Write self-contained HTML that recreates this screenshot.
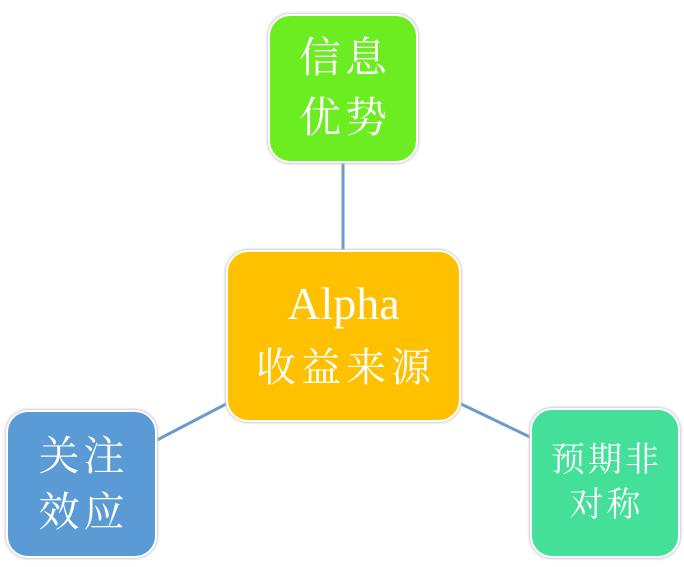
<!DOCTYPE html>
<html><head><meta charset="utf-8"><style>
body{margin:0;width:684px;height:567px;background:#fff;position:relative;overflow:hidden;font-family:"Liberation Serif","Noto Serif CJK SC",serif;}
.b{position:absolute;box-sizing:border-box;border:2px solid #fff;border-radius:22px;box-shadow:0 0 2px 1px #ccc;color:#fff;display:flex;flex-direction:column;align-items:center;justify-content:center;text-align:center;}
</style></head><body>
<svg width="684" height="567" style="position:absolute;left:0;top:0">
<g stroke="#6b9bc8" stroke-width="3">
<line x1="343" y1="163" x2="343" y2="250"/>
<line x1="157" y1="440" x2="228" y2="403"/>
<line x1="459" y1="403" x2="532" y2="438"/>
</g></svg>
<div class="b" style="left:268px;top:14px;width:150px;height:149px;background:#6ced22;font-size:42px;letter-spacing:4px;padding-left:4px;line-height:60px;">信息<br>优势</div>
<div class="b" style="left:226px;top:250px;width:235px;height:172px;background:#ffc000;line-height:64px;"><span style="font-size:46px">Alpha</span><span style="font-size:40px;letter-spacing:5px;padding-left:5px">收益来源</span></div>
<div class="b" style="left:6px;top:410px;width:151px;height:148px;background:#5b9bd5;font-size:41px;letter-spacing:4px;padding-left:4px;line-height:56px;">关注<br>效应</div>
<div class="b" style="left:530px;top:408px;width:150px;height:150px;background:#44e09a;font-size:34px;letter-spacing:3px;padding-left:3px;line-height:45px;">预期非<br>对称</div>
</body></html>
